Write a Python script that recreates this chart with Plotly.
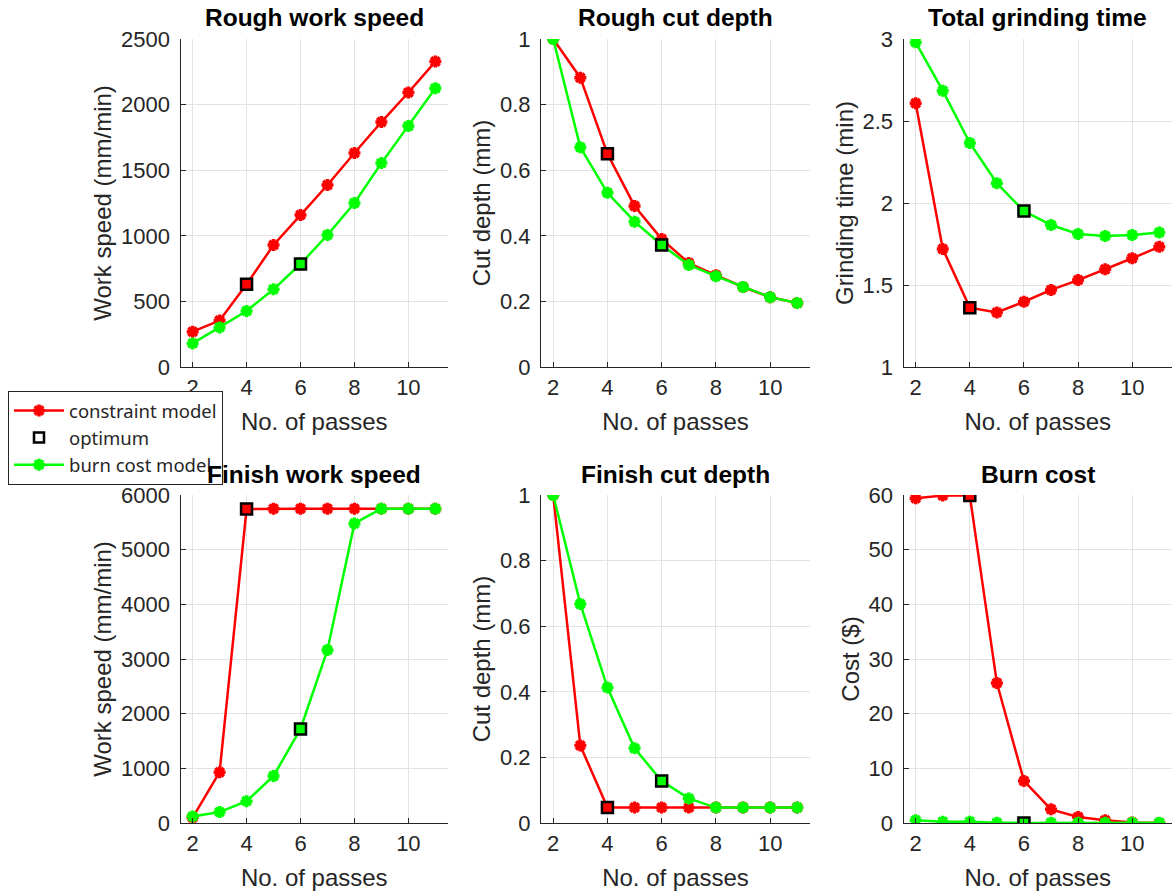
import plotly.graph_objects as go

# ---- data -------------------------------------------------------------
passes = [2, 3, 4, 5, 6, 7, 8, 9, 10, 11]

rough_speed_constraint = [269, 354, 630, 930, 1158, 1387, 1631, 1867, 2092, 2328]
rough_speed_burn = [180, 302, 427, 592, 785, 1006, 1250, 1554, 1836, 2124]

rough_depth_constraint = [1.0, 0.882, 0.650, 0.491, 0.390, 0.317, 0.280, 0.244, 0.213, 0.195]
rough_depth_burn = [1.0, 0.670, 0.531, 0.443, 0.372, 0.311, 0.277, 0.244, 0.213, 0.195]

grind_time_constraint = [2.608, 1.720, 1.362, 1.333, 1.398, 1.470, 1.530, 1.596, 1.663, 1.733]
grind_time_burn = [2.980, 2.685, 2.366, 2.120, 1.951, 1.866, 1.811, 1.799, 1.805, 1.820]

finish_speed_constraint = [100, 930, 5743, 5750, 5750, 5750, 5750, 5750, 5750, 5750]
finish_speed_burn = [120, 200, 400, 860, 1720, 3165, 5480, 5750, 5750, 5750]

finish_depth_constraint = [1.0, 0.236, 0.047, 0.047, 0.047, 0.047, 0.047, 0.047, 0.047, 0.047]
finish_depth_burn = [1.0, 0.668, 0.413, 0.228, 0.128, 0.075, 0.047, 0.047, 0.047, 0.047]

burn_cost_constraint = [59.4, 59.9, 59.9, 25.6, 7.7, 2.5, 1.1, 0.5, 0.1, 0.02]
burn_cost_burn = [0.5, 0.25, 0.25, 0.05, 0.02, 0.05, 0.05, 0.05, 0.05, 0.05]

optimum_constraint = 4   # passes at the constraint-model optimum
optimum_burn = 6         # passes at the burn-cost-model optimum

panel_titles = ["Rough work speed", "Rough cut depth", "Total grinding time",
                "Finish work speed", "Finish cut depth", "Burn cost"]
y_labels = ["Work speed (mm/min)", "Cut depth (mm)", "Grinding time (min)",
            "Work speed (mm/min)", "Cut depth (mm)", "Cost ($)"]
x_label = "No. of passes"
x_ticks = [2, 4, 6, 8, 10]

series = [
    (rough_speed_constraint, rough_speed_burn),
    (rough_depth_constraint, rough_depth_burn),
    (grind_time_constraint, grind_time_burn),
    (finish_speed_constraint, finish_speed_burn),
    (finish_depth_constraint, finish_depth_burn),
    (burn_cost_constraint, burn_cost_burn),
]
y_ranges = [(0, 2500), (0, 1), (1, 3), (0, 6000), (0, 1), (0, 60)]
y_dticks = [500, 0.2, 0.5, 1000, 0.2, 10]

# ---- layout geometry (figure pixels) -----------------------------------
W, H = 1173, 894
col_px = [(180.5, 448.0), (541.0, 810.0), (903.5, 1172.0)]
row_px = [(39.0, 367.0), (495.0, 823.0)]

RED = "#ff0000"
GREEN = "#00ff00"
AXIS_COL = "#262626"
GRID_COL = "#e3e3e3"
FONT = "Liberation Sans, Arial, sans-serif"

fig = go.Figure()
layout = dict(
    width=W, height=H,
    margin=dict(l=0, r=0, t=0, b=0, pad=0, autoexpand=False),
    paper_bgcolor="white", plot_bgcolor="white",
    font=dict(family=FONT, color=AXIS_COL, size=22),
    showlegend=True,
    annotations=[],
)

star = dict(symbol="asterisk", size=10)

for i in range(6):
    r, c = divmod(i, 3)
    n = i + 1
    xa = "x" if n == 1 else f"x{n}"
    ya = "y" if n == 1 else f"y{n}"
    red_vals, green_vals = series[i]
    first = i == 0

    fig.add_trace(go.Scatter(
        x=passes, y=red_vals, xaxis=xa, yaxis=ya, mode="lines+markers",
        name="constraint model", legendrank=1, showlegend=first,
        line=dict(color=RED, width=2.5),
        marker=dict(color=RED, line=dict(color=RED, width=3.5), **star),
    ))
    fig.add_trace(go.Scatter(
        x=passes, y=green_vals, xaxis=xa, yaxis=ya, mode="lines+markers",
        name="burn cost model", legendrank=3, showlegend=first,
        line=dict(color=GREEN, width=2.5),
        marker=dict(color=GREEN, line=dict(color=GREEN, width=3.5), **star),
    ))
    ic = passes.index(optimum_constraint)
    ib = passes.index(optimum_burn)
    fig.add_trace(go.Scatter(
        x=[passes[ic], passes[ib]], y=[red_vals[ic], green_vals[ib]],
        xaxis=xa, yaxis=ya, mode="markers", showlegend=False,
        marker=dict(symbol="square", size=11, color=[RED, GREEN],
                    line=dict(color="black", width=2.5)),
    ))

    x0, x1 = col_px[c]
    y0, y1 = row_px[r]
    xdom = [x0 / W, x1 / W]
    ydom = [1 - y1 / H, 1 - y0 / H]

    layout[f"xaxis{'' if n == 1 else n}"] = dict(
        domain=xdom, anchor=ya, range=[1.55, 11.47], automargin=False,
        tickvals=x_ticks, ticks="inside", ticklen=5, tickcolor=AXIS_COL,
        showline=True, linecolor=AXIS_COL, linewidth=1.2,
        showgrid=True, gridcolor=GRID_COL, gridwidth=1, zeroline=False,
        tickfont=dict(size=22, color=AXIS_COL),
        title=dict(text=x_label, font=dict(size=24, color=AXIS_COL), standoff=14),
    )
    layout[f"yaxis{'' if n == 1 else n}"] = dict(
        domain=ydom, anchor=xa, range=list(y_ranges[i]), automargin=False,
        dtick=y_dticks[i], tick0=y_ranges[i][0], ticks="inside", ticklen=5,
        tickcolor=AXIS_COL, ticklabelstandoff=5,
        showline=True, linecolor=AXIS_COL, linewidth=1.2,
        showgrid=True, gridcolor=GRID_COL, gridwidth=1, zeroline=False,
        tickfont=dict(size=22, color=AXIS_COL),
        title=dict(text=y_labels[i], font=dict(size=24, color=AXIS_COL), standoff=2),
    )
    layout["annotations"].append(dict(
        text=f"<b>{panel_titles[i]}</b>", xref="paper", yref="paper",
        x=(xdom[0] + xdom[1]) / 2, y=ydom[1] + 21 / H,
        xanchor="center", yanchor="middle", showarrow=False,
        font=dict(size=24.5, color="black", family=FONT),
    ))

# legend-only entry for the optimum markers
fig.add_trace(go.Scatter(
    x=[None], y=[None], mode="markers", name="optimum", legendrank=2,
    marker=dict(symbol="square-open", size=10, color="black",
                line=dict(color="black", width=2.5)),
))

layout["legend"] = dict(
    x=8 / W, y=1 - 391 / H, xanchor="left", yanchor="top",
    bgcolor="white", bordercolor="#262626", borderwidth=1,
    font=dict(size=18.5, color=AXIS_COL, family="Noto Sans, Liberation Sans, sans-serif"),
    itemwidth=50, tracegroupgap=0,
)

fig.update_layout(**layout)
fig.write_html("out.html")
